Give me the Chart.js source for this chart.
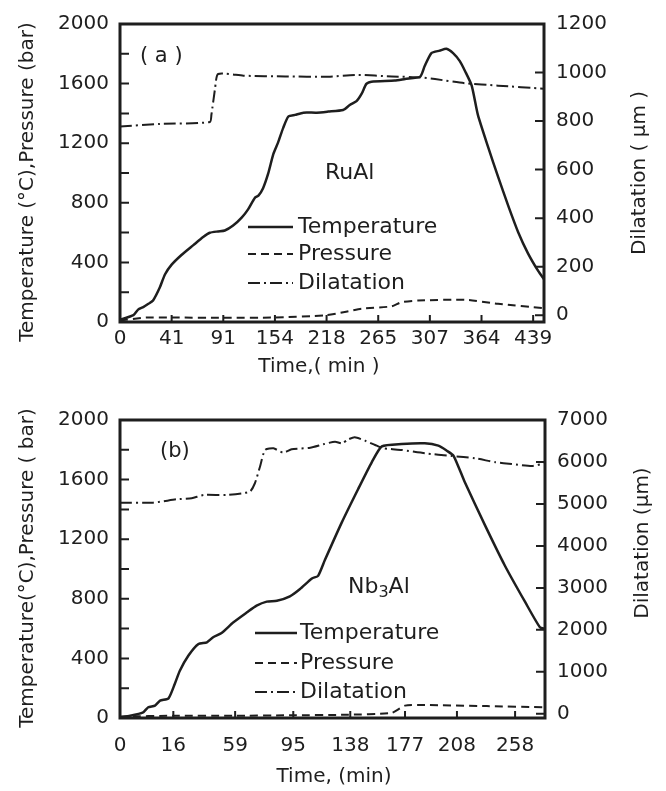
<!DOCTYPE html>
<html>
<head>
<meta charset="utf-8">
<script src="https://cdn.jsdelivr.net/npm/chart.js@4.4.0/dist/chart.umd.min.js"></script>
<style>
  html, body { margin: 0; padding: 0; background: #fff; }
  canvas { display: block; }
</style>
</head>
<body>
<canvas id="chartA" width="666" height="395"></canvas>
<canvas id="chartB" width="666" height="396"></canvas>
<script>
// Values.
// x is counted in tick steps along the time axis, because the printed minute labels are not evenly spaced

// (a) RuAl
var ruTickPos    = [0, 1, 2, 3, 4, 5, 6, 7, 8];
var ruTickLabels = ["0", "41", "91", "154", "218", "265", "307", "364", "439"];
var ruTempX = [0, 0.26, 0.35, 0.45, 0.55, 0.64, 0.77, 0.87, 1.0, 1.19, 1.42, 1.61, 1.74, 1.90, 2.03, 2.19, 2.36, 2.48, 2.61, 2.68, 2.77, 2.87, 2.97, 3.06, 3.16, 3.26, 3.39, 3.55, 3.81, 4.03, 4.32, 4.45, 4.58, 4.68, 4.77, 4.87, 5.32, 5.52, 5.81, 5.90, 6.03, 6.19, 6.32, 6.45, 6.58, 6.68, 6.81, 6.93, 7.13, 7.32, 7.52, 7.71, 7.90, 8.10, 8.21];
var ruTempY = [15, 46, 83, 100, 122, 144, 231, 319, 385, 450, 516, 570, 599, 608, 614, 647, 702, 756, 833, 848, 898, 997, 1128, 1204, 1303, 1379, 1390, 1405, 1405, 1412, 1423, 1456, 1482, 1532, 1598, 1613, 1620, 1631, 1646, 1718, 1805, 1821, 1834, 1805, 1751, 1685, 1587, 1390, 1172, 975, 778, 603, 461, 341, 287];
var ruPresX = [0, 0.5, 1.0, 2.0, 3.0, 3.97, 4.35, 4.68, 5.26, 5.45, 5.77, 6.68, 7.32, 8.21];
var ruPresY = [10, 30, 30, 28, 30, 45, 67, 89, 105, 133, 144, 149, 122, 92];
var ruDilX  = [0, 0.77, 1.74, 1.77, 1.84, 1.90, 2.39, 3.2, 4.03, 4.61, 5.26, 5.81, 6.10, 6.68, 7.32, 8.21];
var ruDilY  = [778, 788, 796, 826, 933, 994, 987, 984, 983, 990, 984, 980, 973, 956, 946, 933];
var ruDilTicks = [0, 200, 400, 600, 800, 1000, 1200];

// (b) Nb3Al
var nbTickPos    = [0, 0.945, 2.04, 3.07, 4.08, 5.05, 5.97, 7.0];
var nbTickLabels = ["0", "16", "59", "95", "138", "177", "208", "258"];
var nbTempX = [0, 0.18, 0.41, 0.50, 0.62, 0.71, 0.86, 0.97, 1.06, 1.21, 1.39, 1.54, 1.65, 1.80, 2.01, 2.25, 2.42, 2.60, 2.78, 3.01, 3.19, 3.40, 3.51, 3.63, 3.93, 4.22, 4.46, 4.64, 4.99, 5.40, 5.64, 5.79, 5.91, 6.11, 6.47, 6.82, 7.18, 7.44, 7.53];
var nbTempY = [5, 15, 38, 72, 83, 116, 132, 228, 317, 418, 497, 508, 542, 570, 642, 709, 754, 781, 787, 817, 866, 937, 954, 1060, 1313, 1537, 1716, 1823, 1839, 1844, 1828, 1794, 1760, 1582, 1291, 1022, 777, 609, 600];
var nbPresX = [0, 1, 2, 3, 4, 4.81, 5.05, 5.40, 6.5, 7.53];
var nbPresY = [10, 15, 15, 18, 22, 34, 83, 87, 80, 72];
var nbDilX  = [0, 0.59, 1.0, 1.27, 1.48, 1.89, 2.30, 2.39, 2.48, 2.57, 2.72, 2.89, 3.04, 3.37, 3.60, 3.81, 3.93, 4.05, 4.16, 4.34, 4.52, 4.67, 4.99, 5.40, 5.88, 6.29, 6.65, 6.94, 7.30, 7.53];
var nbDilY  = [5031, 5031, 5111, 5135, 5214, 5214, 5293, 5493, 5888, 6286, 6325, 6222, 6302, 6341, 6421, 6484, 6445, 6540, 6588, 6508, 6405, 6326, 6286, 6207, 6143, 6088, 5993, 5952, 5905, 5969];
var nbDilTicks = [0, 1000, 2000, 3000, 4000, 5000, 6000, 7000];

// left axis is shared in style: ticks every 200, numbers every 400
var tempTicks = [0, 200, 400, 600, 800, 1000, 1200, 1400, 1600, 1800, 2000];

var ink = "#1e1e1e";
var fontName = "'DejaVu Sans', sans-serif";
var dashPressure = [8, 5];
var dashDilatation = [12, 4, 2, 4];

function toPoints(xs, ys) { // pair up x and y arrays for Chart.js
  return xs.map(function(x, i) { return { x: x, y: ys[i] }; });
}

function asTicks(values) {
  return values.map(function(v) { return { value: v }; });
}

function drawPanel(canvasId, p) {

  // frame, inward tick marks, legend and all labels
  var decorations = {
    id: 'decorations',
    afterDraw: function(chart) {
      var ctx = chart.ctx;
      var a = chart.chartArea;
      var sx = chart.scales.x, sy = chart.scales.y, sy1 = chart.scales.y1;
      ctx.save();
      ctx.strokeStyle = ink;
      ctx.fillStyle = ink;

      ctx.lineWidth = 2;
      ctx.beginPath();
      sy.ticks.forEach(function(t) {
        var y = sy.getPixelForValue(t.value);
        ctx.moveTo(a.left, y); ctx.lineTo(a.left + 9, y);
      });
      sy1.ticks.forEach(function(t) {
        var y = sy1.getPixelForValue(t.value);
        ctx.moveTo(a.right, y); ctx.lineTo(a.right - 9, y);
      });
      sx.ticks.forEach(function(t) {
        var x = sx.getPixelForValue(t.value);
        ctx.moveTo(x, a.bottom); ctx.lineTo(x, a.bottom - 7);
      });
      ctx.stroke();

      ctx.lineWidth = 3;
      ctx.strokeRect(a.left, a.top, a.right - a.left, a.bottom - a.top);

      // legend
      ctx.font = "22px " + fontName;
      ctx.textBaseline = "middle";
      ctx.textAlign = "left";
      chart.data.datasets.forEach(function(ds, i) {
        var y = p.legendY[i];
        ctx.lineWidth = ds.borderWidth;
        ctx.setLineDash(ds.borderDash || []);
        ctx.beginPath();
        ctx.moveTo(p.legendX[0], y); ctx.lineTo(p.legendX[1], y);
        ctx.stroke();
        ctx.setLineDash([]);
        ctx.fillText(ds.label, p.legendX[2], y);
      });

      // panel letter and material name
      ctx.font = "21px " + fontName;
      ctx.fillText(p.letter, p.letterPos[0], p.letterPos[1]);
      var nx = p.namePos[0];
      p.name.forEach(function(part) {
        if (part.sub) {
          ctx.font = "16px " + fontName;
          ctx.fillText(part.text, nx, p.namePos[1] + 6);
        } else {
          ctx.font = "22px " + fontName;
          ctx.fillText(part.text, nx, p.namePos[1]);
        }
        nx += ctx.measureText(part.text).width;
      });

      // axis titles
      ctx.font = "20px " + fontName;
      ctx.textAlign = "center";
      ctx.fillText(p.xTitle, p.xTitlePos[0], p.xTitlePos[1]);
      ctx.save();
      ctx.translate(p.leftTitlePos[0], p.leftTitlePos[1]);
      ctx.rotate(-Math.PI / 2);
      ctx.fillText(p.leftTitle, 0, 0);
      ctx.restore();
      ctx.save();
      ctx.translate(p.rightTitlePos[0], p.rightTitlePos[1]);
      ctx.rotate(-Math.PI / 2);
      ctx.fillText(p.rightTitle, 0, 0);
      ctx.restore();

      ctx.restore();
    }
  };

  var tickFont = { family: fontName, size: 20 };

  new Chart(document.getElementById(canvasId), {
    type: 'line',
    data: {
      datasets: [
        { label: 'Temperature', data: toPoints(p.tempX, p.tempY), yAxisID: 'y',
          borderColor: ink, borderWidth: 2.5, pointRadius: 0, tension: 0.2 },
        { label: 'Pressure', data: toPoints(p.presX, p.presY), yAxisID: 'y',
          borderColor: ink, borderWidth: 2, borderDash: dashPressure, pointRadius: 0, tension: 0.2 },
        { label: 'Dilatation', data: toPoints(p.dilX, p.dilY), yAxisID: 'y1',
          borderColor: ink, borderWidth: 2, borderDash: dashDilatation, pointRadius: 0, tension: 0.2 }
      ]
    },
    options: {
      responsive: false,
      animation: false,
      devicePixelRatio: 1,
      layout: { padding: { top: p.areaTop, left: 0, right: 0, bottom: 0 } },
      plugins: { legend: { display: false }, tooltip: { enabled: false } },
      scales: {
        x: {
          type: 'linear', min: 0, max: p.xMax,
          grid: { display: false, drawTicks: false }, border: { display: false },
          afterBuildTicks: function(scale) { scale.ticks = asTicks(p.tickPos); },
          afterFit: function(scale) { scale.height = p.xAxisHeight; },
          ticks: { color: ink, font: tickFont, padding: p.xTickPad, maxRotation: 0,
            callback: function(v, i) { return p.tickLabels[i]; } }
        },
        y: {
          position: 'left', min: 0, max: 2000,
          grid: { display: false, drawTicks: false }, border: { display: false },
          afterBuildTicks: function(scale) { scale.ticks = asTicks(tempTicks); },
          afterFit: function(scale) { scale.width = 120; },
          ticks: { color: ink, font: tickFont, padding: 11,
            callback: function(v) { return v % 400 === 0 ? String(v) : ''; } }
        },
        y1: {
          position: 'right', min: p.dilMin, max: p.dilMax,
          grid: { display: false, drawTicks: false }, border: { display: false },
          afterBuildTicks: function(scale) { scale.ticks = asTicks(p.dilTicks); },
          afterFit: function(scale) { scale.width = p.rightWidth; },
          ticks: { color: ink, font: tickFont, padding: 12,
            callback: function(v) { return String(v); } }
        }
      }
    },
    plugins: [decorations]
  });
}

drawPanel('chartA', {
  tempX: ruTempX, tempY: ruTempY, presX: ruPresX, presY: ruPresY, dilX: ruDilX, dilY: ruDilY,
  tickPos: ruTickPos, tickLabels: ruTickLabels, dilTicks: ruDilTicks,
  xMax: 8.21, dilMin: -28, dilMax: 1200,
  areaTop: 17, xAxisHeight: 73, rightWidth: 122, xTickPad: 5,
  legendX: [248, 293, 298], legendY: [227, 254, 283],
  letter: "( a )", letterPos: [140, 57],
  name: [{ text: "RuAl" }], namePos: [325, 173],
  xTitle: "Time,( min )", xTitlePos: [319, 367],
  leftTitle: "Temperature (°C),Pressure (bar)", leftTitlePos: [28, 182],
  rightTitle: "Dilatation ( µm )", rightTitlePos: [640, 173]
});

drawPanel('chartB', {
  tempX: nbTempX, tempY: nbTempY, presX: nbPresX, presY: nbPresY, dilX: nbDilX, dilY: nbDilY,
  tickPos: nbTickPos, tickLabels: nbTickLabels, dilTicks: nbDilTicks,
  xMax: 7.53, dilMin: -100, dilMax: 7000,
  areaTop: 25, xAxisHeight: 73, rightWidth: 121, xTickPad: 16,
  legendX: [255, 297, 300], legendY: [238, 268, 297],
  letter: "(b)", letterPos: [160, 57],
  name: [{ text: "Nb" }, { text: "3", sub: true }, { text: "Al" }], namePos: [348, 192],
  xTitle: "Time, (min)", xTitlePos: [334, 382],
  leftTitle: "Temperature(°C),Pressure ( bar)", leftTitlePos: [28, 173],
  rightTitle: "Dilatation (µm)", rightTitlePos: [643, 148]
});
</script>
</body>
</html>
